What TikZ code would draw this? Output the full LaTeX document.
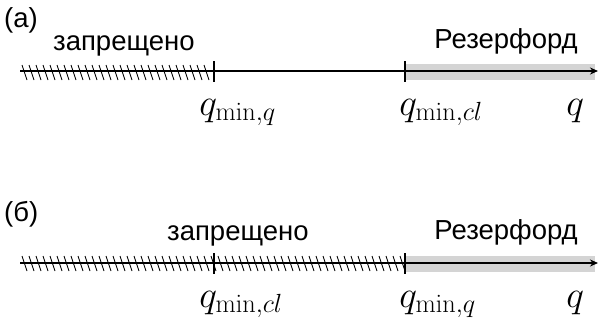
\RequirePackage{fix-cm}
\documentclass[tikz,border=0pt]{standalone}
\usepackage[no-math]{fontspec}
\setmainfont{Liberation Sans}
\usetikzlibrary{arrows.meta}
\begin{document}
\begin{tikzpicture}[x=1pt,y=-1pt,
  axis/.style={line width=1.4pt,-{Stealth[length=8pt,width=7pt]}},
  tick/.style={line width=1.6pt},
  hatch/.style={line width=0.8pt},
  band/.style={fill=black!17,draw=none},
  lbl/.style={inner sep=0pt,font=\fontsize{27.5}{32}\selectfont},
  mlbl/.style={inner sep=0pt,scale=1.25,font=\fontsize{30}{36}\selectfont}]
\useasboundingbox (0,0) rectangle (599,325);
% ---------- (a) ----------
\node[lbl,anchor=base west] (la) at (4,27) {(a)};
\node[lbl,anchor=base west] (fa) at (53,50) {запрещено};
\node[lbl,anchor=base east] (ra) at (578,48) {Резерфорд};
\fill[band] (405,64) rectangle (595,80);
\foreach \x in {22,29,...,208} \draw[hatch] (\x,65) -- (\x+5,80);
\coordinate (a0) at (20,71);
\coordinate (a1) at (598,71);
\draw[axis] (a0) -- (a1);
\coordinate (ta1) at (214,61); \coordinate (ta1b) at (214,82);
\coordinate (ta2) at (405,61); \coordinate (ta2b) at (405,82);
\draw[tick] (ta1) -- (ta1b);
\draw[tick] (ta2) -- (ta2b);
\node[mlbl,anchor=base west] (qa1) at (199,115) {$q_{\min,q}$};
\node[mlbl,anchor=base west] (qa2) at (399,115) {$q_{\min,cl}$};
\node[mlbl,anchor=base west] (qa3) at (566,115) {$q$};
% ---------- (б) ----------
\node[lbl,anchor=base west] (lb) at (4,221) {(б)};
\node[lbl,anchor=base west] (fb) at (167,240) {запрещено};
\node[lbl,anchor=base east] (rb) at (578,239) {Резерфорд};
\fill[band] (405,256) rectangle (595,272);
\foreach \x in {22,29,...,400} \draw[hatch] (\x,256) -- (\x+5,271);
\coordinate (b0) at (20,263);
\coordinate (b1) at (598,263);
\draw[axis] (b0) -- (b1);
\coordinate (tb1) at (214,253); \coordinate (tb1b) at (214,274);
\coordinate (tb2) at (405,253); \coordinate (tb2b) at (405,274);
\draw[tick] (tb1) -- (tb1b);
\draw[tick] (tb2) -- (tb2b);
\node[mlbl,anchor=base west] (qb1) at (199,307) {$q_{\min,cl}$};
\node[mlbl,anchor=base west] (qb2) at (399,307) {$q_{\min,q}$};
\node[mlbl,anchor=base west] (qb3) at (566,307) {$q$};
\end{tikzpicture}
\end{document}
